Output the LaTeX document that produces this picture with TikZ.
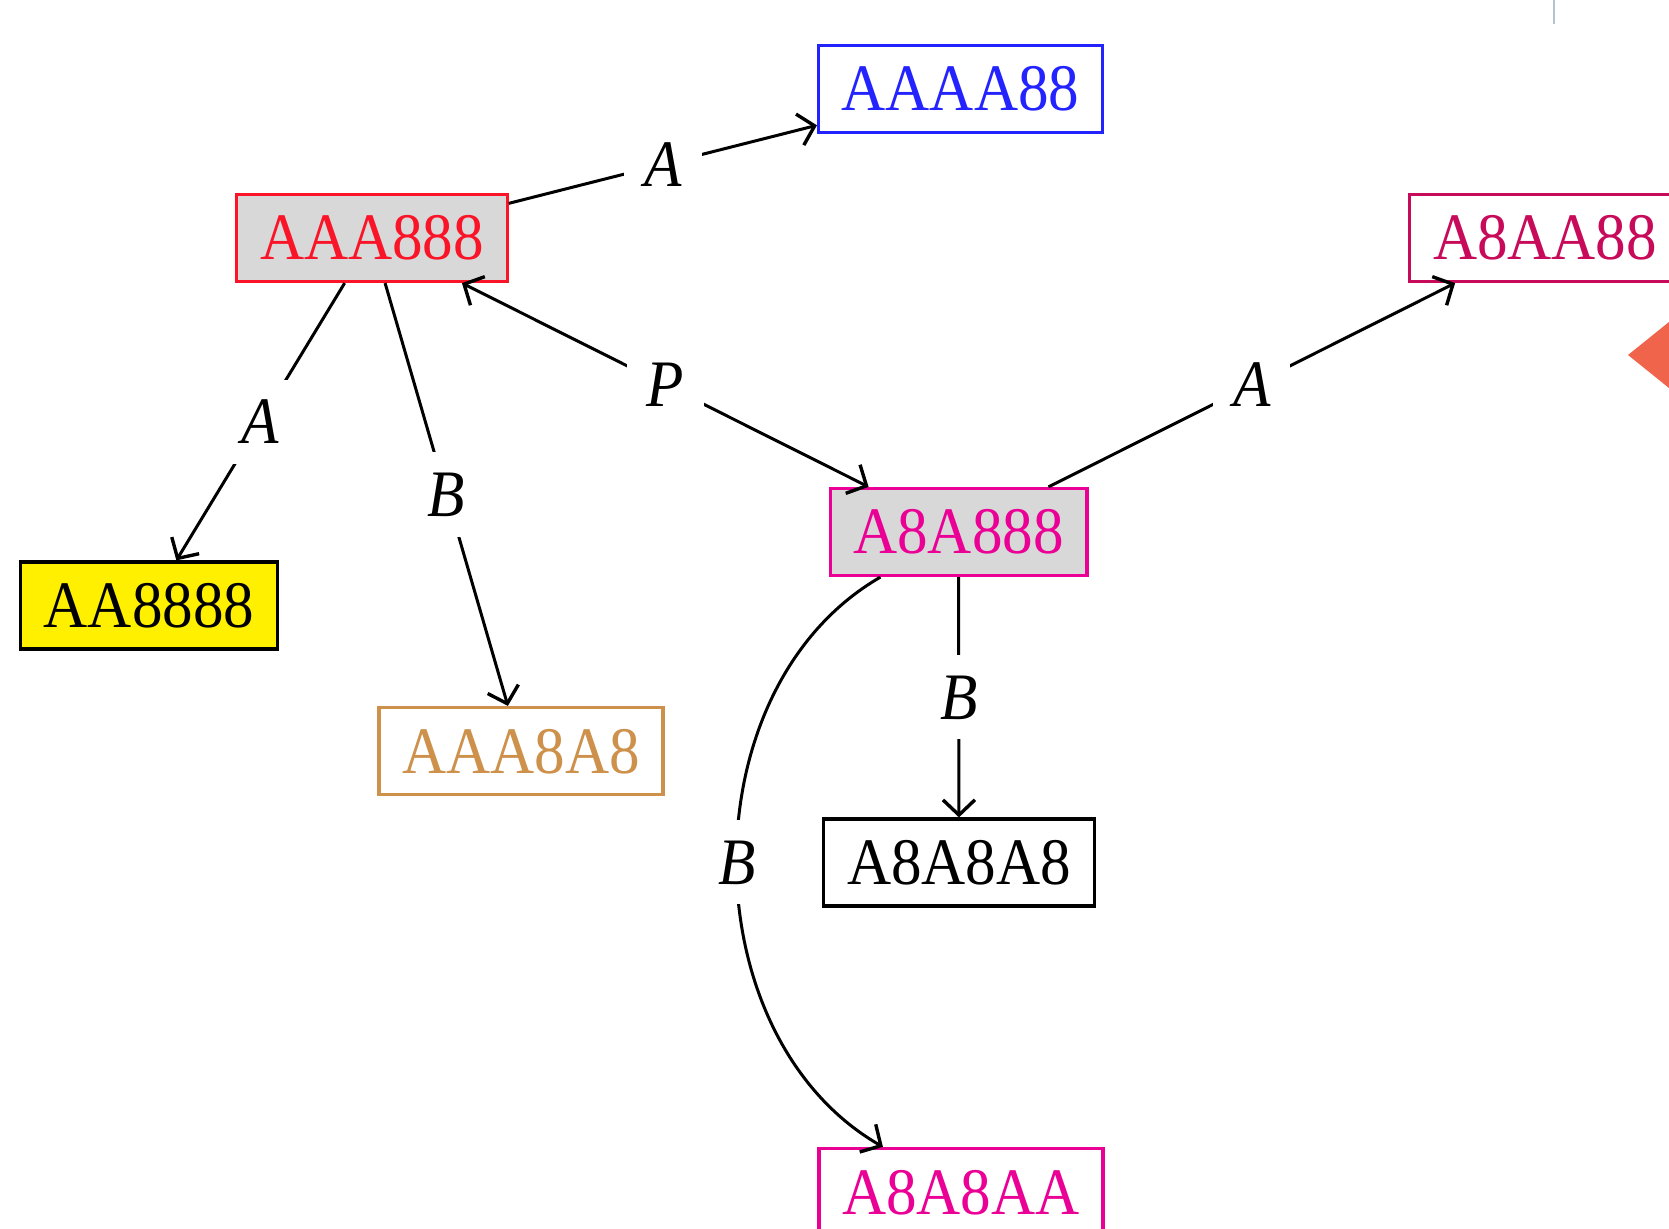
\documentclass[tikz,border=0pt]{standalone}
\usepackage{fontspec}
\setmainfont{Liberation Serif}[FakeStretch=0.92]
\usetikzlibrary{arrows.meta}
\definecolor{cblue}{RGB}{35,35,255}
\definecolor{cred}{RGB}{250,20,40}
\definecolor{cpurple}{RGB}{200,10,90}
\definecolor{cpink}{RGB}{235,0,150}
\definecolor{ctan}{RGB}{205,145,75}
\definecolor{cgrayfill}{RGB}{216,216,216}
\definecolor{cyellow}{RGB}{255,240,0}
\definecolor{corange}{RGB}{240,100,75}
\definecolor{cthin}{RGB}{180,195,205}
\begin{document}
\begin{tikzpicture}[x=0.25pt,y=0.25pt,
  box/.style={draw, line width=0.8pt, minimum height=21.75pt, inner xsep=5.8pt, inner ysep=0pt,
    text height=11pt, text depth=0pt, font=\fontsize{16.6}{20}\selectfont},
  lbl/.style={fill=white, inner sep=5pt, text height=11pt, text depth=0pt,
    font=\fontsize{16.6}{20}\selectfont\itshape},
  edge/.style={line width=0.75pt, -{Straight Barb[length=3.8pt,width=8pt,line width=0.85pt]}},
  edgeboth/.style={line width=0.75pt, {Straight Barb[length=3.8pt,width=8pt,line width=0.85pt]}-{Straight Barb[length=3.8pt,width=8pt,line width=0.85pt]}}
]
\useasboundingbox (0,0) rectangle (1669,-1229);
\fill[white] (0,0) rectangle (1669,-1229);

\node[box, draw=cblue, text=cblue] (n1) at (960.5,-89) {AAAA88};
\node[box, draw=cred, text=cred, fill=cgrayfill] (n2) at (372,-238) {AAA888};
\node[box, draw=cpurple, text=cpurple] (n3) at (1545,-238) {A8AA88};
\node[box, draw=cpink, text=cpink, fill=cgrayfill] (n4) at (958.5,-532) {A8A888};
\node[box, draw=black, fill=cyellow] (n5) at (149,-605.5) {AA8888};
\node[box, draw=ctan, text=ctan] (n6) at (521,-751) {AAA8A8};
\node[box, draw=black] (n7) at (959,-862.5) {A8A8A8};
\node[box, draw=cpink, text=cpink] (n8) at (961,-1192) {A8A8AA};

\draw[edge] (n2) -- node[lbl]{A} (n1);
\draw[edge] (n2) -- node[lbl]{A} (n5);
\draw[edge] (n2) -- node[lbl]{B} (n6);
\draw[edgeboth] (n2) -- node[lbl]{P} (n4);
\draw[edge] (n4) -- node[lbl]{A} (n3);
\draw[edge] (n4) -- node[lbl]{B} (n7);
\draw[edge] (n4) to[out=-150,in=150] node[lbl]{B} (n8);

\draw[cthin, line width=0.4pt] (1554,0) -- (1554,-24);
\fill[corange] (1628,-355) -- (1669,-322) -- (1669,-388) -- cycle;
\end{tikzpicture}
\end{document}
